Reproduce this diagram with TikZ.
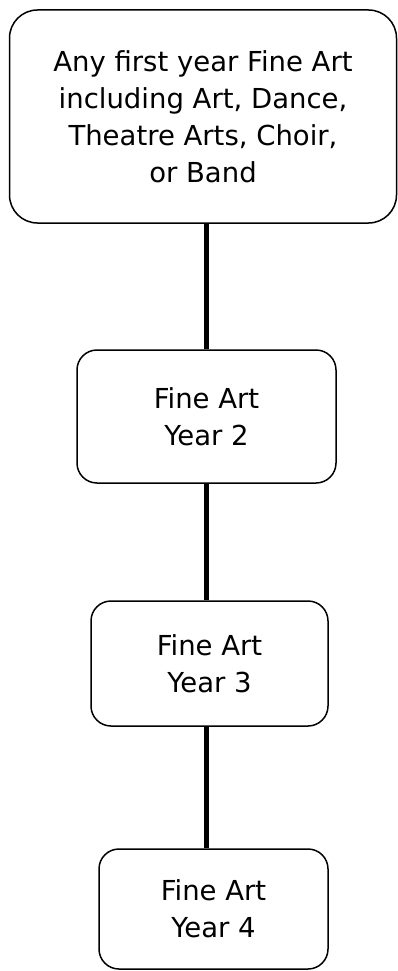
\documentclass[tikz,border=0pt]{standalone}
\usepackage{fontspec}
\setmainfont{DejaVu Sans}
\begin{document}
\begin{tikzpicture}[x=1pt,y=1pt,
  stage/.style={draw=black, line width=1.5pt, fill=white, align=center,
    inner sep=0pt, font=\fontsize{27.5}{37}\selectfont},
  link/.style={line width=5pt}]
  \useasboundingbox (0,0) rectangle (398,-971);
  \coordinate (axis) at (206.5,0);
  \node[stage, rounded corners=28pt, minimum width=387pt, minimum height=213pt] (b1) at (203,-116.5)
    {Any first year Fine Art\\including Art, Dance,\\Theatre Arts, Choir,\\or Band};
  \node[stage, rounded corners=20pt, minimum width=259pt, minimum height=133pt] (b2) at (206.5,-416.5)
    {Fine Art\\Year 2};
  \node[stage, rounded corners=20pt, minimum width=237pt, minimum height=125pt] (b3) at (209.5,-663.5)
    {Fine Art\\Year 3};
  \node[stage, rounded corners=20pt, minimum width=229pt, minimum height=120pt] (b4) at (213.5,-909)
    {Fine Art\\Year 4};
  \draw[link] (axis |- b1.south) -- (axis |- b2.north);
  \draw[link] (axis |- b2.south) -- (axis |- b3.north);
  \draw[link] (axis |- b3.south) -- (axis |- b4.north);
\end{tikzpicture}
\end{document}
